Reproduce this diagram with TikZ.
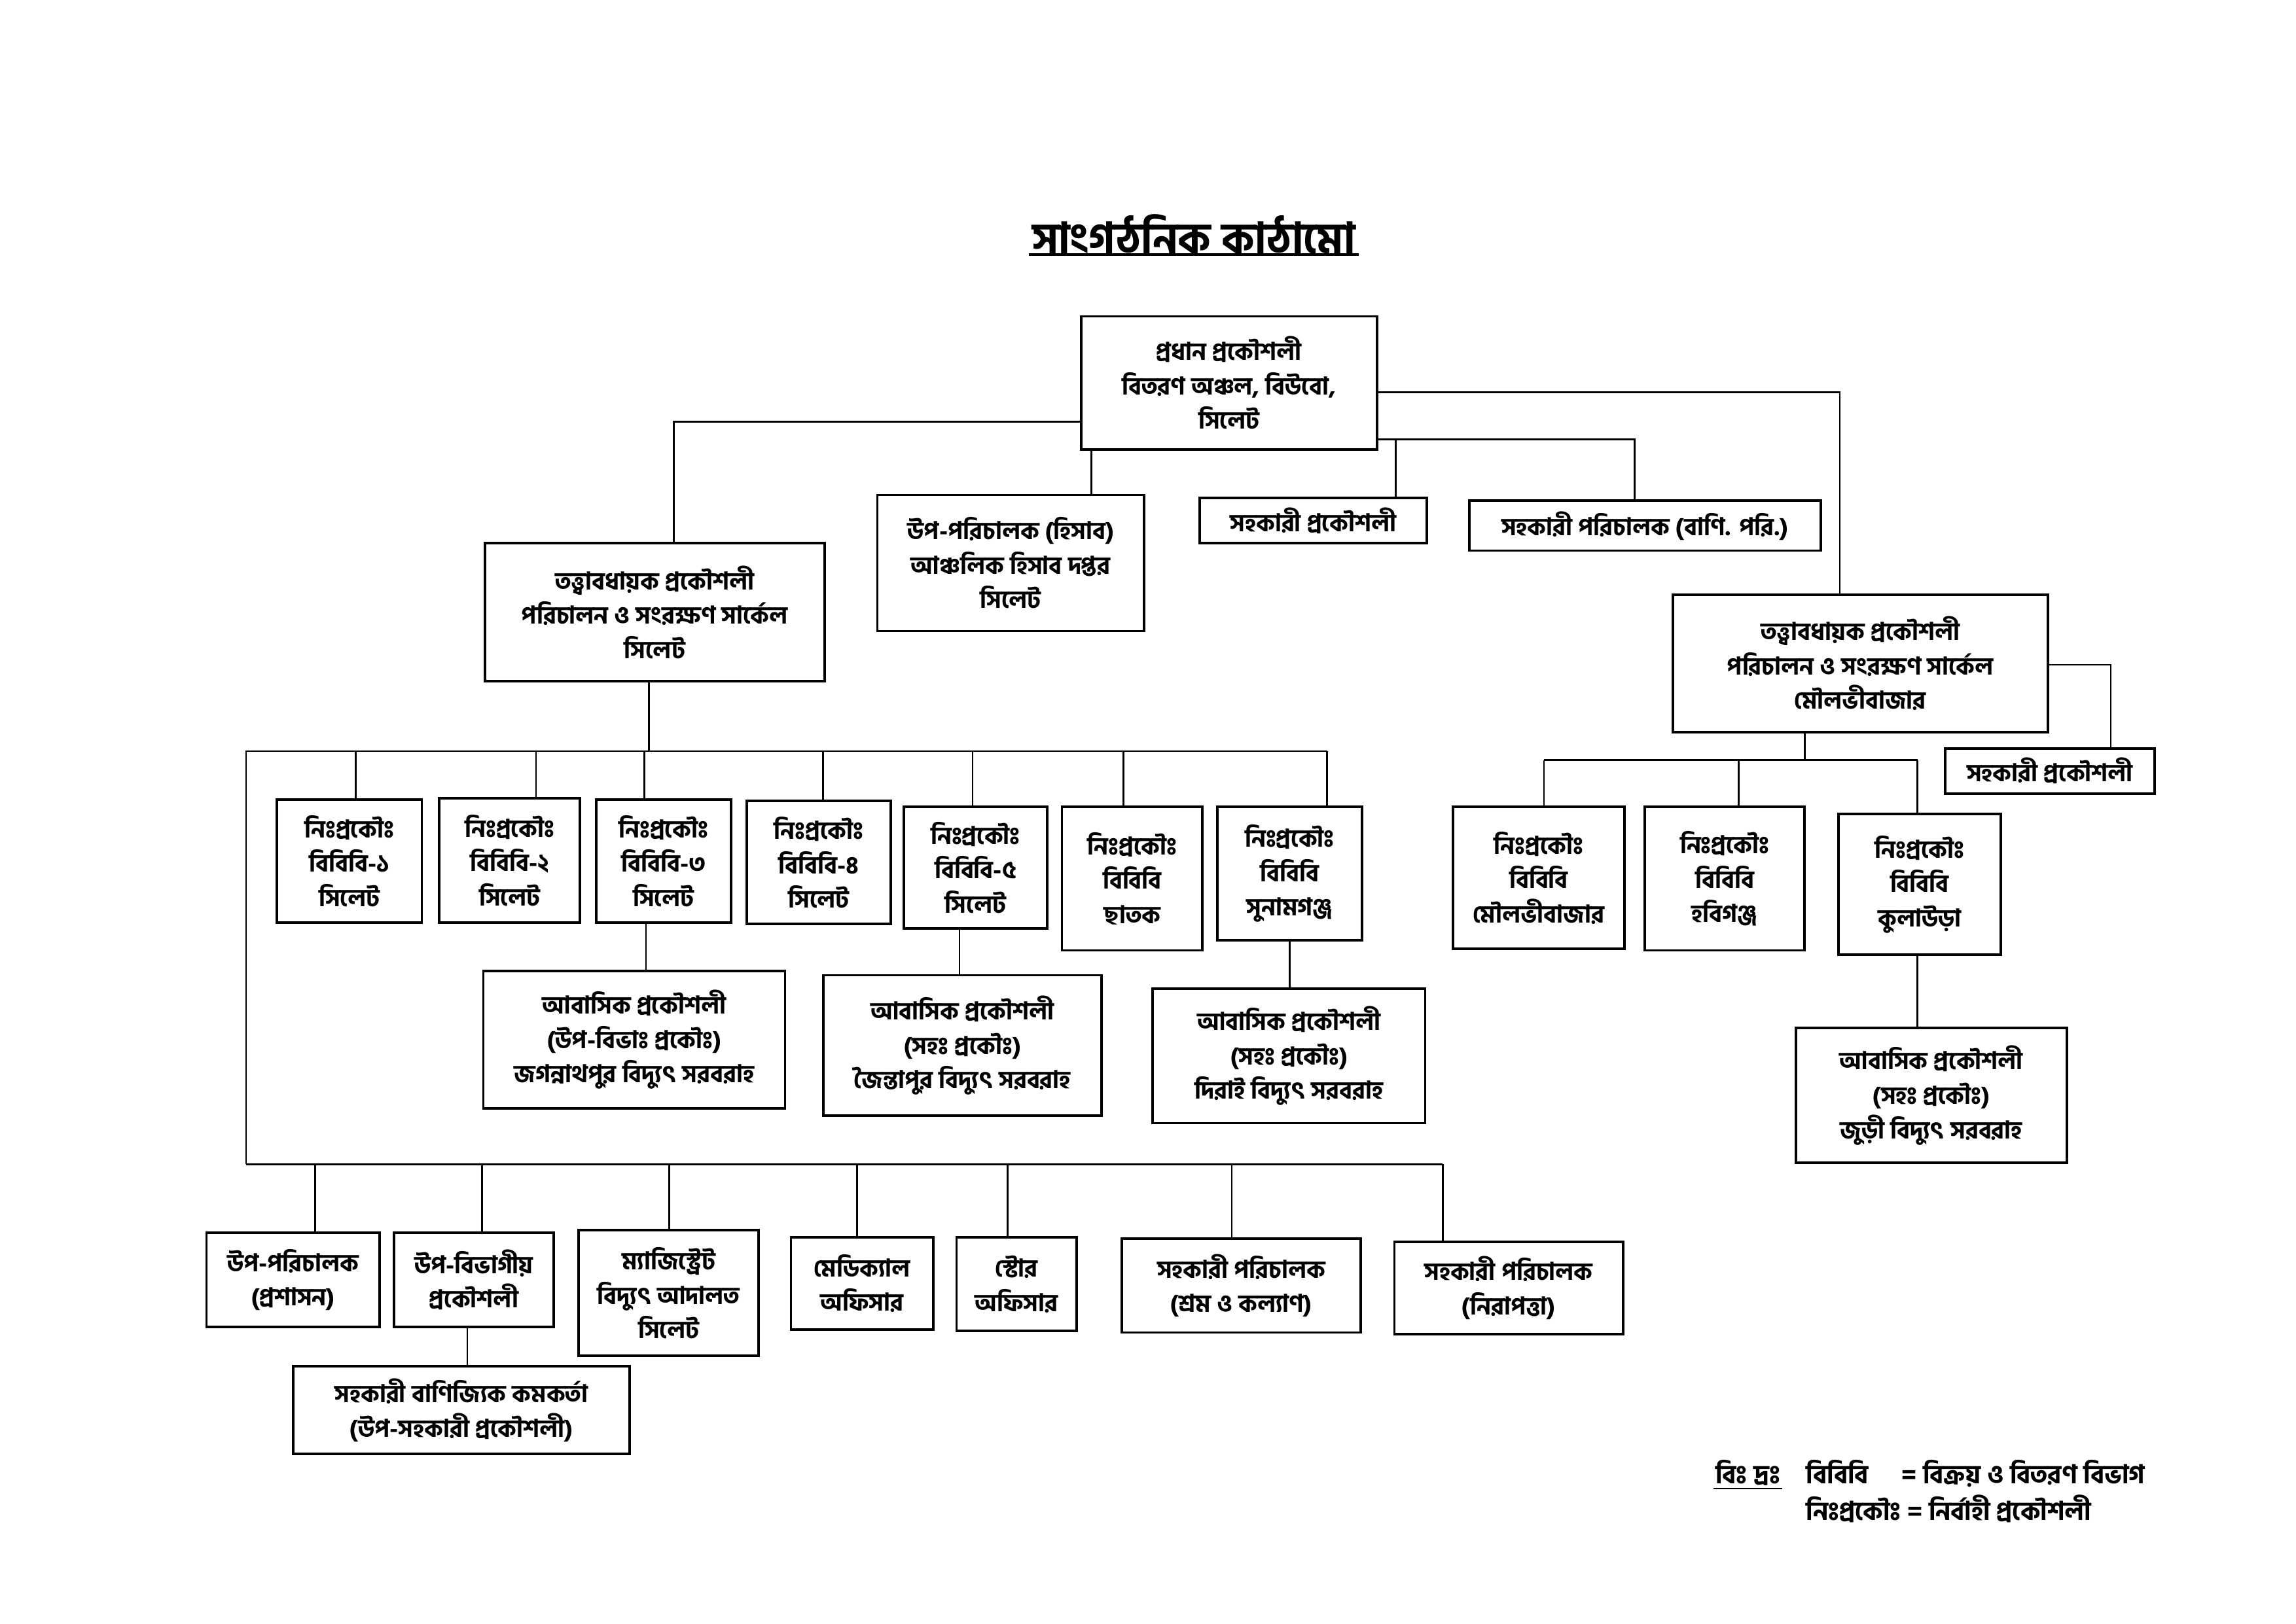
\documentclass[tikz,border=0pt]{standalone}
\usepackage{fontspec}
\setmainfont[Script=Bengali, BoldFont={Hind Siliguri Bold}]{Hind Siliguri}
\usetikzlibrary{calc}
\begin{document}
\begin{tikzpicture}[x=1pt,y=-1pt,
  bx/.style={draw, line width=1.7pt, align=center, inner sep=0pt, font=\fontsize{16.5}{23.5}\selectfont\bfseries},
  ln/.style={line width=1.2pt},
  txt/.style={anchor=base west, inner sep=1pt, font=\fontsize{17.5}{22}\selectfont\bfseries}]
\useasboundingbox[fill=white] (0,0) rectangle (1567.5,1109);

% title
\node[inner sep=2pt, font=\fontsize{29}{36}\selectfont\bfseries] (title) at (815,160) {সাংগঠনিক কাঠামো};
\draw[line width=2pt] ([yshift=2pt]title.south west) -- ([yshift=2pt]title.south east);

% top level
\node[bx, minimum width=202pt, minimum height=91pt] (top) at (839,261.5) {প্রধান প্রকৌশলী\\বিতরণ অঞ্চল, বিউবো,\\সিলেট};
\node[bx, minimum width=182pt, minimum height=93pt] (hisab) at (690,384.5) {উপ-পরিচালক (হিসাব)\\আঞ্চলিক হিসাব দপ্তর\\সিলেট};
\node[bx, minimum width=155pt, minimum height=31pt] (sp1) at (896.5,355.5) {সহকারী প্রকৌশলী};
\node[bx, minimum width=240pt, minimum height=34pt] (bani) at (1123,359) {সহকারী পরিচালক (বাণি. পরি.)};
\node[bx, minimum width=232pt, minimum height=94pt] (seS) at (447,418) {তত্ত্বাবধায়ক প্রকৌশলী\\পরিচালন ও সংরক্ষণ সার্কেল\\সিলেট};
\node[bx, minimum width=256pt, minimum height=94pt] (seM) at (1270,453) {তত্ত্বাবধায়ক প্রকৌশলী\\পরিচালন ও সংরক্ষণ সার্কেল\\মৌলভীবাজার};
\node[bx, minimum width=143pt, minimum height=31pt] (sp2) at (1399.5,526.5) {সহকারী প্রকৌশলী};

% Moulvibazar branch
\node[bx, minimum width=117pt, minimum height=97pt] (m1) at (1050.5,599.5) {নিঃপ্রকৌঃ\\বিবিবি\\মৌলভীবাজার};
\node[bx, minimum width=109pt, minimum height=98pt] (m2) at (1177.5,600) {নিঃপ্রকৌঃ\\বিবিবি\\হবিগঞ্জ};
\node[bx, minimum width=111pt, minimum height=96pt] (m3) at (1310.5,604) {নিঃপ্রকৌঃ\\বিবিবি\\কুলাউড়া};
\node[bx, minimum width=185pt, minimum height=92pt] (m4) at (1318.5,748) {আবাসিক প্রকৌশলী\\(সহঃ প্রকৌঃ)\\জুড়ী বিদ্যুৎ সরবরাহ};

% Sylhet branch row 1
\node[bx, minimum width=99pt, minimum height=84pt] (s1) at (238.5,588) {নিঃপ্রকৌঃ\\বিবিবি-১\\সিলেট};
\node[bx, minimum width=96pt, minimum height=85pt] (s2) at (348,587.5) {নিঃপ্রকৌঃ\\বিবিবি-২\\সিলেট};
\node[bx, minimum width=92pt, minimum height=84pt] (s3) at (453,588) {নিঃপ্রকৌঃ\\বিবিবি-৩\\সিলেট};
\node[bx, minimum width=98pt, minimum height=84pt] (s4) at (559,589) {নিঃপ্রকৌঃ\\বিবিবি-৪\\সিলেট};
\node[bx, minimum width=98pt, minimum height=83pt] (s5) at (666,592.5) {নিঃপ্রকৌঃ\\বিবিবি-৫\\সিলেট};
\node[bx, minimum width=96pt, minimum height=98pt] (s6) at (773,600) {নিঃপ্রকৌঃ\\বিবিবি\\ছাতক};
\node[bx, minimum width=99pt, minimum height=91pt] (s7) at (880.5,596.5) {নিঃপ্রকৌঃ\\বিবিবি\\সুনামগঞ্জ};
\node[bx, minimum width=206pt, minimum height=94pt] (r1) at (433,710) {আবাসিক প্রকৌশলী\\(উপ-বিভাঃ প্রকৌঃ)\\জগন্নাথপুর বিদ্যুৎ সরবরাহ};
\node[bx, minimum width=190pt, minimum height=96pt] (r2) at (657,714) {আবাসিক প্রকৌশলী\\(সহঃ প্রকৌঃ)\\জৈন্তাপুর বিদ্যুৎ সরবরাহ};
\node[bx, minimum width=186pt, minimum height=92pt] (r3) at (880,721) {আবাসিক প্রকৌশলী\\(সহঃ প্রকৌঃ)\\দিরাই বিদ্যুৎ সরবরাহ};

% bottom row
\node[bx, minimum width=118pt, minimum height=64pt] (b1) at (200,874) {উপ-পরিচালক\\(প্রশাসন)};
\node[bx, minimum width=109pt, minimum height=64pt] (b2) at (323.5,874) {উপ-বিভাগীয়\\প্রকৌশলী};
\node[bx, minimum width=123pt, minimum height=86pt] (b3) at (456.5,883) {ম্যাজিস্ট্রেট\\বিদ্যুৎ আদালত\\সিলেট};
\node[bx, minimum width=97pt, minimum height=63pt] (b4) at (588.5,876.5) {মেডিক্যাল\\অফিসার};
\node[bx, minimum width=82pt, minimum height=64pt] (b5) at (694,877) {স্টোর\\অফিসার};
\node[bx, minimum width=163pt, minimum height=64pt] (b6) at (847.5,878) {সহকারী পরিচালক\\(শ্রম ও কল্যাণ)};
\node[bx, minimum width=156pt, minimum height=63pt] (b7) at (1030,879.5) {সহকারী পরিচালক\\(নিরাপত্তা)};
\node[bx, minimum width=230pt, minimum height=60pt] (b8) at (315,963) {সহকারী বাণিজ্যিক কমকর্তা\\(উপ-সহকারী প্রকৌশলী)};

% connectors from top
\draw[ln] ([yshift=-26.5pt]top.west) -| ([xshift=13pt]seS.north);
\draw[ln] ([yshift=-6.5pt]top.east) -| ([xshift=-14pt]seM.north);
\coordinate (hs) at ([xshift=55pt]hisab.north);
\draw[ln] (hs |- top.south) -- (hs);
\coordinate (tR) at ([yshift=-38.5pt]top.east);
\draw[ln] (tR) -| ([xshift=-7pt]bani.north);
\coordinate (spd) at ([xshift=56.5pt]sp1.north);
\draw[ln] (spd |- tR) -- (spd);

% Moulvibazar connectors
\draw[ln] ([yshift=-1pt]seM.east) -| ([xshift=41.5pt]sp2.north);
\coordinate (seMd) at ([xshift=-38pt]seM.south);
\coordinate (busM) at (1054,519);
\coordinate (f1) at ([xshift=3.5pt]m1.north);
\coordinate (f2) at ([xshift=9.5pt]m2.north);
\coordinate (f3) at ([xshift=-1.5pt]m3.north);
\draw[ln] (seMd) -- (seMd |- busM);
\draw[ln] (busM -| f1) -- (busM -| f3);
\foreach \f in {f1,f2,f3} \draw[ln] (busM -| \f) -- (\f);
\coordinate (gm) at ([xshift=-1.5pt]m3.south);
\draw[ln] (gm) -- (gm |- m4.north);

% Sylhet connectors
\coordinate (busA) at (168,513);
\coordinate (busB) at (168,795);
\coordinate (seSd) at ([xshift=-4pt]seS.south);
\coordinate (d1) at ([xshift=4.5pt]s1.north);
\coordinate (d2) at ([xshift=18pt]s2.north);
\coordinate (d3) at ([xshift=-13pt]s3.north);
\coordinate (d4) at ([xshift=3pt]s4.north);
\coordinate (d5) at ([xshift=-2pt]s5.north);
\coordinate (d6) at ([xshift=-6pt]s6.north);
\coordinate (d7) at ([xshift=25.5pt]s7.north);
\draw[ln] (seSd) -- (seSd |- busA);
\draw[ln] (busB) -- (busA) -- (busA -| d7);
\foreach \d in {d1,d2,d3,d4,d5,d6,d7} \draw[ln] (busA -| \d) -- (\d);
\coordinate (g3) at ([xshift=-12pt]s3.south);
\draw[ln] (g3) -- (g3 |- r1.north);
\coordinate (g5) at ([xshift=-11pt]s5.south);
\draw[ln] (g5) -- (g5 |- r2.north);
\coordinate (g7) at (s7.south);
\draw[ln] (g7) -- (g7 |- r3.north);

% bottom bus
\coordinate (e1) at ([xshift=15pt]b1.north);
\coordinate (e2) at ([xshift=5.5pt]b2.north);
\coordinate (e3) at ([xshift=0.5pt]b3.north);
\coordinate (e4) at ([xshift=-3.5pt]b4.north);
\coordinate (e5) at ([xshift=-6pt]b5.north);
\coordinate (e6) at ([xshift=-6.5pt]b6.north);
\coordinate (e7) at ([xshift=-45pt]b7.north);
\draw[ln] (busB) -- (busB -| e7);
\foreach \e in {e1,e2,e3,e4,e5,e6,e7} \draw[ln] (busB -| \e) -- (\e);
\coordinate (g2) at ([xshift=-4.5pt]b2.south);
\draw[ln] (g2) -- (g2 |- b8.north);

% legend
\node[txt] (nb) at (1170,1013) {বিঃ দ্রঃ};
\draw[line width=1.2pt] ([yshift=-1pt]nb.south west) -- ([yshift=-1pt]nb.south east);
\node[txt] (la) at (1232,1013) {বিবিবি};
\node[txt] (lb) at (1297,1013) {= বিক্রয় ও বিতরণ বিভাগ};
\node[txt] (lc) at (1232,1038) {নিঃপ্রকৌঃ = নির্বাহী প্রকৌশলী};
\end{tikzpicture}
\end{document}
